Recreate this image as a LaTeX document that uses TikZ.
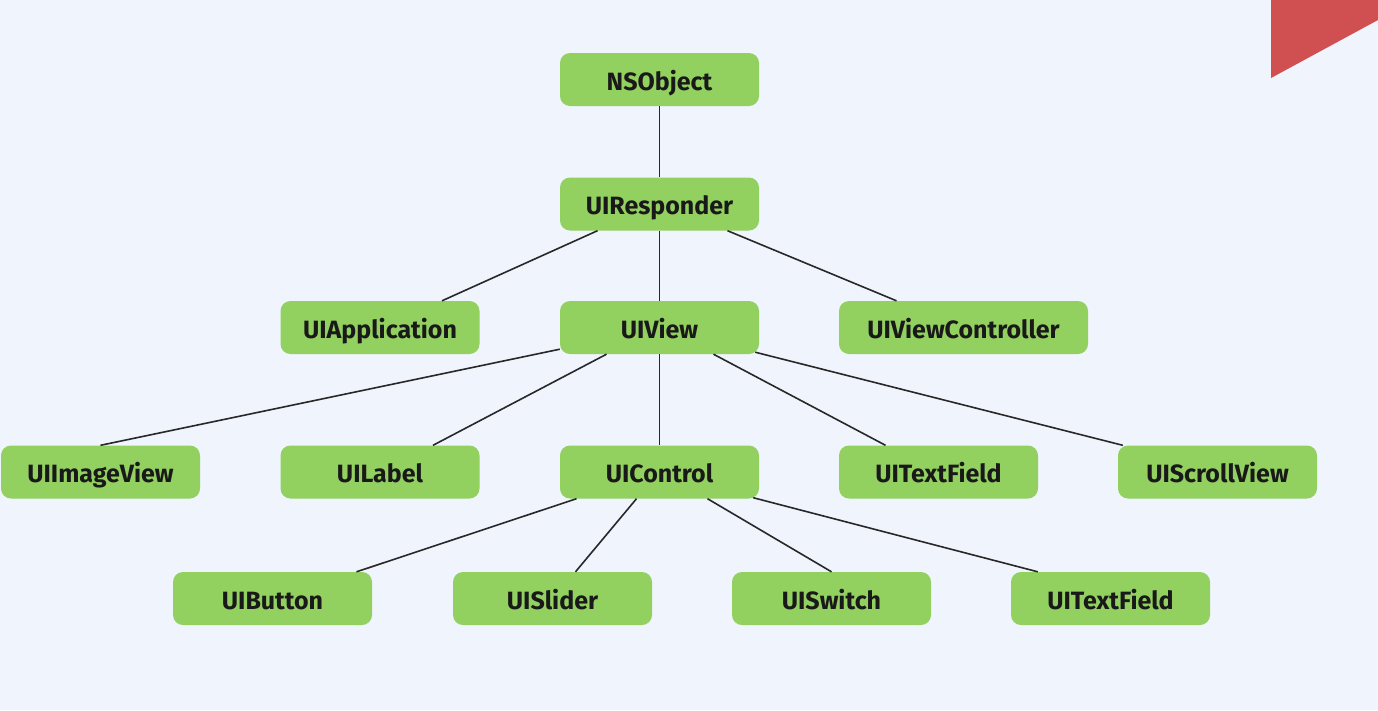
\documentclass[tikz,border=0pt]{standalone}
\usepackage{fontspec}
\setmainfont{Fira Sans}
\definecolor{bg}{RGB}{240,244,252}
\definecolor{boxgreen}{RGB}{146,208,96}
\definecolor{cornerred}{RGB}{208,80,82}
\definecolor{linkgray}{RGB}{40,40,40}
\begin{document}
\begin{tikzpicture}[x=1pt,y=-1pt,
  cls/.style={fill=boxgreen, rounded corners=10pt, minimum height=53pt,
    minimum width=199pt, inner sep=0pt, text height=21pt, text depth=0pt,
    font=\fontsize{25}{27}\selectfont\bfseries, text=black!90},
  link/.style={draw=linkgray, line width=1.6pt}]
  % page and corner mark
  \fill[bg] (0,0) rectangle (1378,710);
  \useasboundingbox (0,0) rectangle (1378,710);
  \fill[cornerred] (1271,0) -- (1378,0) -- (1378,20) -- (1271,78) -- cycle;

  % class boxes
  \node[cls] (nsobject) at (659.5,79.5) {NSObject};
  \node[cls] (responder) at (659.5,204) {UIResponder};
  \node[cls] (app) at (380,327.5) {UIApplication};
  \node[cls] (view) at (659.5,327.5) {UIView};
  \node[cls, minimum width=249pt] (vc) at (963.5,327.5) {UIViewController};
  \node[cls] (image) at (100.5,472) {UIImageView};
  \node[cls] (label) at (380,472) {UILabel};
  \node[cls] (control) at (659.5,472) {UIControl};
  \node[cls] (field) at (938.5,472) {UITextField};
  \node[cls] (scroll) at (1217.5,472) {UIScrollView};
  \node[cls] (button) at (272.5,598.5) {UIButton};
  \node[cls] (slider) at (552.5,598.5) {UISlider};
  \node[cls] (switch) at (831.5,598.5) {UISwitch};
  \node[cls] (cfield) at (1110.5,598.5) {UITextField};

  % inheritance links
  \draw[link] (nsobject.south) -- (responder.north);
  \draw[link] ([xshift=-62pt]responder.south) -- ([xshift=62pt]app.north);
  \draw[link] (responder.south) -- (view.north);
  \draw[link] ([xshift=68pt]responder.south) -- ([xshift=-67pt]vc.north);
  \draw[link] ([yshift=5pt]view.south west) -- (image.north);
  \draw[link] ([xshift=-53pt]view.south) -- ([xshift=53pt]label.north);
  \draw[link] (view.south) -- (control.north);
  \draw[link] ([xshift=54pt]view.south) -- ([xshift=-53pt]field.north);
  \draw[link] ([xshift=-4pt,yshift=2pt]view.south east) -- ([xshift=5pt]scroll.north west);
  \draw[link] ([xshift=-83pt]control.south) -- ([xshift=84pt]button.north);
  \draw[link] ([xshift=-23pt]control.south) -- ([xshift=23pt]slider.north);
  \draw[link] ([xshift=48pt]control.south) -- (switch.north);
  \draw[link] ([xshift=-6pt,yshift=1pt]control.south east) -- ([xshift=27pt]cfield.north west);
\end{tikzpicture}
\end{document}
